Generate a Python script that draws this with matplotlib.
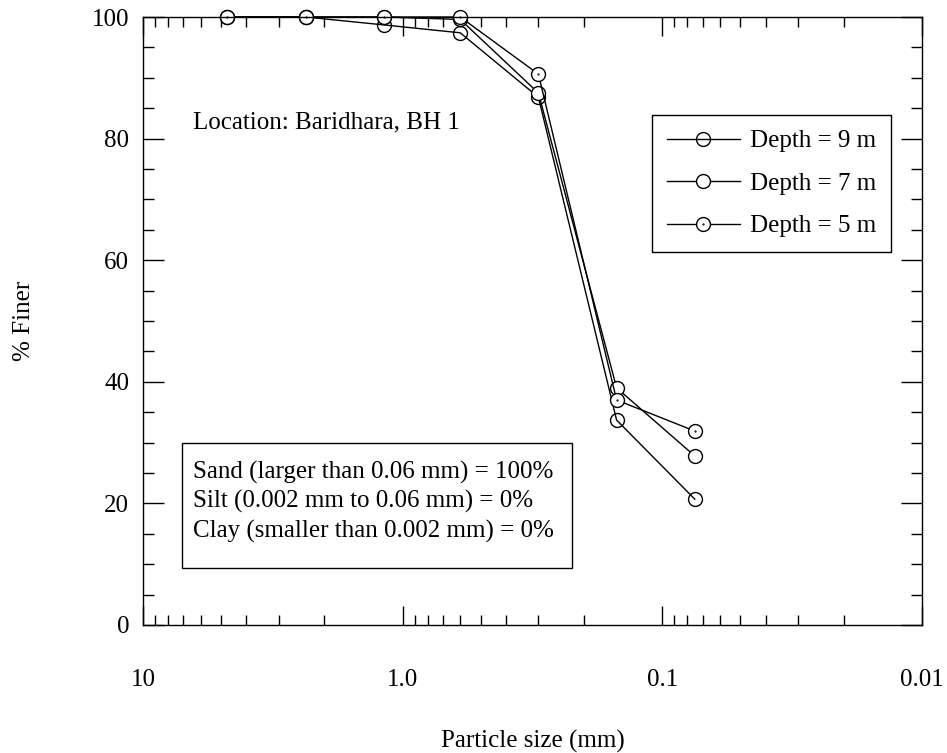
import matplotlib.pyplot as plt
from matplotlib.path import Path
from matplotlib.patches import Rectangle
from matplotlib.ticker import LogLocator, MultipleLocator, FixedLocator, FixedFormatter, NullFormatter

plt.rcParams['font.family'] = ['Liberation Serif', 'DejaVu Serif']
plt.rcParams['font.size'] = 18

# sieve sizes (mm) and percent finer for each depth
sizes = [4.75, 2.36, 1.18, 0.6, 0.3, 0.15, 0.075]
finer_9m = [100, 100, 98.7, 97.4, 86.8, 33.7, 20.7]
finer_7m = [100, 100, 100, 99.6, 87.5, 39.0, 27.8]
finer_5m = [100, 100, 100, 100, 90.6, 37.0, 31.9]

xticks = [10, 1.0, 0.1, 0.01]
xticklabels = ['10', '1.0', '0.1', '0.01']

# circle with a small dot in the centre
dot_circle = Path.make_compound_path(Path.unit_circle(), Path.circle(radius=0.06))

fig = plt.figure(figsize=(9.47, 7.53), dpi=100)
ax = fig.add_axes([0.151, 0.17, 0.8226, 0.8074])

ax.plot(sizes, finer_9m, color='black', lw=1, marker='o', ms=10,
        mfc='none', mec='black', mew=1, label='Depth = 9 m', clip_on=False)
ax.plot(sizes, finer_7m, color='black', lw=1, marker='o', ms=10,
        mfc='white', mec='black', mew=1, label='Depth = 7 m', clip_on=False)
ax.plot(sizes, finer_5m, color='black', lw=1, marker=dot_circle, ms=10,
        mfc='white', mec='black', mew=1, label='Depth = 5 m', clip_on=False)

ax.set_xscale('log')
ax.set_xlim(10, 0.01)
ax.set_ylim(0, 100)

ax.xaxis.set_major_locator(FixedLocator(xticks))
ax.xaxis.set_major_formatter(FixedFormatter(xticklabels))
ax.xaxis.set_minor_locator(LogLocator(base=10, subs=range(2, 10)))
ax.xaxis.set_minor_formatter(NullFormatter())
ax.yaxis.set_major_locator(MultipleLocator(20))
ax.yaxis.set_minor_locator(MultipleLocator(5))

ax.tick_params(which='both', direction='in', top=True, right=True, width=1)
ax.tick_params(axis='x', which='major', length=14, pad=32, labelsize=18)
ax.tick_params(axis='x', which='minor', length=7)
ax.tick_params(axis='y', which='major', length=15, pad=10, labelsize=18)
ax.tick_params(axis='y', which='minor', length=8)
for sp in ax.spines.values():
    sp.set_linewidth(1)

ax.set_xlabel('Particle size (mm)', fontsize=18, labelpad=28)
ax.set_ylabel('% Finer', fontsize=18, labelpad=41)

ax.text(0.064, 0.827, 'Location: Baridhara, BH 1', transform=ax.transAxes,
        fontsize=18, va='center', ha='left')

# soil fraction summary in a framed box
ax.add_patch(Rectangle((0.050, 0.0938), 0.5006, 0.2056, transform=ax.transAxes,
                       fc='white', ec='black', lw=1, zorder=3))
ax.text(0.0642, 0.2025,
        'Sand (larger than 0.06 mm) = 100%\n'
        'Silt (0.002 mm to 0.06 mm) = 0%\n'
        'Clay (smaller than 0.002 mm) = 0%',
        transform=ax.transAxes, fontsize=18, va='center', ha='left',
        linespacing=1.34, zorder=4)

leg = ax.legend(loc='upper right', bbox_to_anchor=(0.960, 0.839),
                fontsize=18, handlelength=2.9, handletextpad=0.4,
                fancybox=False, framealpha=1, edgecolor='black',
                borderpad=0.6, labelspacing=0.8, borderaxespad=0)
leg.get_frame().set_linewidth(1)

fig.savefig('out.png', dpi=100)
